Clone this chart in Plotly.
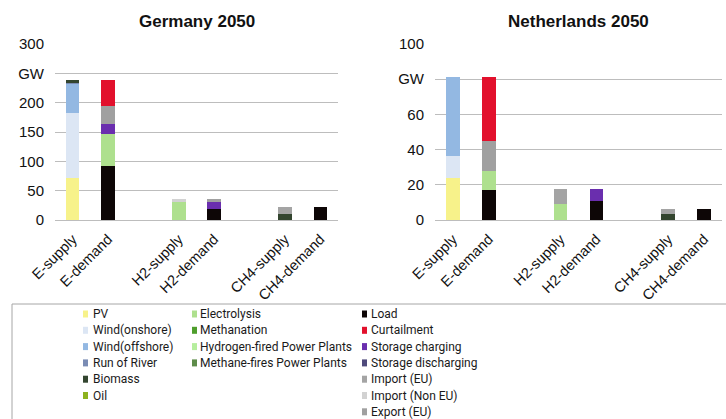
import plotly.graph_objects as go
from plotly.subplots import make_subplots

# ---------------- data ----------------
categories = ["E-supply", "E-demand", " ", "H2-supply", "H2-demand", "  ", "CH4-supply", "CH4-demand"]

# Germany 2050 (GW)
PV_DE            = [72,   None, None, None, None, None, None, None]
ONSHORE_DE       = [110,  None, None, None, None, None, None, None]
OFFSHORE_DE      = [50,   None, None, None, None, None, None, None]
RIVER_DE         = [2,    None, None, None, None, None, None, None]
BIOMASS_DE       = [4,    None, None, None, None, None, 10,   None]
OIL_DE           = [None, None, None, None, None, None, None, None]
LOAD_DE          = [None, 92,   None, None, 18,   None, None, 22]
ELECTROLYSIS_DE  = [None, 55,   None, 31,   None, None, None, None]
METHANATION_DE   = [None, None, None, None, None, None, None, None]
H2PP_DE          = [None, None, None, None, None, None, None, None]
CH4PP_DE         = [None, None, None, None, None, None, None, None]
STCHARGE_DE      = [None, 16,   None, None, 12,   None, None, None]
STDISCHARGE_DE   = [None, None, None, None, None, None, None, None]
IMPORT_EU_DE     = [None, None, None, None, None, None, 12,   None]
IMPORT_NONEU_DE  = [None, None, None, 5,    None, None, None, None]
EXPORT_EU_DE     = [None, 32,   None, None, 6,    None, None, None]
CURTAILMENT_DE   = [None, 43,   None, None, None, None, None, None]

# Netherlands 2050 (GW)
PV_NL            = [24,   None, None, None, None, None, None, None]
ONSHORE_NL       = [12.5, None, None, None, None, None, None, None]
OFFSHORE_NL      = [45,   None, None, None, None, None, None, None]
RIVER_NL         = [None, None, None, None, None, None, None, None]
BIOMASS_NL       = [None, None, None, None, None, None, 3.5,  None]
OIL_NL           = [None, None, None, None, None, None, None, None]
LOAD_NL          = [None, 17,   None, None, 11,   None, None, 6]
ELECTROLYSIS_NL  = [None, 11,   None, 9,    None, None, None, None]
METHANATION_NL   = [None, None, None, None, None, None, None, None]
H2PP_NL          = [None, None, None, None, None, None, None, None]
CH4PP_NL         = [None, None, None, None, None, None, None, None]
STCHARGE_NL      = [None, None, None, None, 6.5,  None, None, None]
STDISCHARGE_NL   = [None, None, None, None, None, None, None, None]
IMPORT_EU_NL     = [None, None, None, 8.5,  None, None, 3,    None]
IMPORT_NONEU_NL  = [None, None, None, None, None, None, None, None]
EXPORT_EU_NL     = [None, 17,   None, None, None, None, None, None]
CURTAILMENT_NL   = [None, 36.5, None, None, None, None, None, None]

# stacking order (bottom -> top)
series_names = ["PV", "Wind(onshore)", "Wind(offshore)", "Run of River", "Biomass", "Oil",
                "Load", "Electrolysis", "Methanation", "Hydrogen-fired Power Plants",
                "Methane-fires Power Plants", "Storage charging", "Storage discharging",
                "Import (EU)", "Import (Non EU)", "Export (EU)", "Curtailment"]
values_de = [PV_DE, ONSHORE_DE, OFFSHORE_DE, RIVER_DE, BIOMASS_DE, OIL_DE, LOAD_DE,
             ELECTROLYSIS_DE, METHANATION_DE, H2PP_DE, CH4PP_DE, STCHARGE_DE, STDISCHARGE_DE,
             IMPORT_EU_DE, IMPORT_NONEU_DE, EXPORT_EU_DE, CURTAILMENT_DE]
values_nl = [PV_NL, ONSHORE_NL, OFFSHORE_NL, RIVER_NL, BIOMASS_NL, OIL_NL, LOAD_NL,
             ELECTROLYSIS_NL, METHANATION_NL, H2PP_NL, CH4PP_NL, STCHARGE_NL, STDISCHARGE_NL,
             IMPORT_EU_NL, IMPORT_NONEU_NL, EXPORT_EU_NL, CURTAILMENT_NL]

# legend columns (top -> bottom)
legend_col1 = ["PV", "Wind(onshore)", "Wind(offshore)", "Run of River", "Biomass", "Oil"]
legend_col2 = ["Electrolysis", "Methanation", "Hydrogen-fired Power Plants", "Methane-fires Power Plants"]
legend_col3 = ["Load", "Curtailment", "Storage charging", "Storage discharging",
               "Import (EU)", "Import (Non EU)", "Export (EU)"]

y_ticks_de = [0, 50, 100, 150, 200, 250, 300]
y_text_de = ["0", "50", "100", "150", "200", "GW", "300"]
y_ticks_nl = [0, 20, 40, 60, 80, 100]
y_text_nl = ["0", "20", "40", "60", "GW", "100"]

# ---------------- styling ----------------
colors = {
    "PV": "#F7F28A",
    "Wind(onshore)": "#DCE6F4",
    "Wind(offshore)": "#93B8E2",
    "Run of River": "#7A8CB4",
    "Biomass": "#33452F",
    "Oil": "#8DB21E",
    "Load": "#0D0606",
    "Electrolysis": "#AEE08E",
    "Methanation": "#4E9E2C",
    "Hydrogen-fired Power Plants": "#B6EE9E",
    "Methane-fires Power Plants": "#5E8C4A",
    "Storage charging": "#6A2EAE",
    "Storage discharging": "#4F4A7C",
    "Import (EU)": "#A4A4A4",
    "Import (Non EU)": "#D2D2D2",
    "Export (EU)": "#A0A0A0",
    "Curtailment": "#E2102C",
}

W, H = 726, 419
FONT = "Liberation Sans, Arial, sans-serif"
LEG_FONT = "Roboto, Liberation Sans, Arial, sans-serif"

fig = make_subplots(rows=1, cols=2)

for name, vde, vnl in zip(series_names, values_de, values_nl):
    fig.add_trace(go.Bar(x=categories, y=vde, name=name, marker=dict(color=colors[name], line=dict(width=0)),
                         legendgroup=name, showlegend=False), row=1, col=1)
    fig.add_trace(go.Bar(x=categories, y=vnl, name=name, marker=dict(color=colors[name], line=dict(width=0)),
                         legendgroup=name, showlegend=False), row=1, col=2)

y0 = 1 - 220 / H
y1 = 1 - 44 / H
xaxis_common = dict(type="category", categoryorder="array", categoryarray=categories,
                    range=[-0.5, len(categories) - 0.5], showgrid=False, showline=False,
                    automargin=False, tickangle=-45, ticks="", ticklabelstandoff=7,
                    tickfont=dict(family=FONT, size=14.5, color="#111111"))
yaxis_common = dict(showgrid=True, gridcolor="#BDBDBD", gridwidth=1, zeroline=True,
                    zerolinecolor="#BDBDBD", zerolinewidth=1, showline=False, ticks="",
                    automargin=False,
                    tickfont=dict(family=FONT, size=15, color="#111111"), ticklabelstandoff=10,
                    domain=[y0, y1])

fig.update_layout(
    width=W, height=H,
    margin=dict(l=0, r=0, t=0, b=0, autoexpand=False),
    paper_bgcolor="white", plot_bgcolor="white",
    barmode="stack", bargap=0.62, showlegend=False,
    font=dict(family=FONT, color="#111111"),
    xaxis=dict(domain=[55 / W, 338 / W], **xaxis_common),
    xaxis2=dict(domain=[435 / W, 722 / W], **xaxis_common),
    yaxis=dict(range=[0, 300], tickvals=y_ticks_de, ticktext=y_text_de, **yaxis_common),
    yaxis2=dict(range=[0, 100], tickvals=y_ticks_nl, ticktext=y_text_nl, **yaxis_common),
)

# ---------------- legend box (three columns) ----------------
fig.add_shape(type="rect", xref="paper", yref="paper", x0=12 / W, x1=740 / W,
              y0=-20 / H, y1=1 - 304 / H, line=dict(color="#A6A6A6", width=1),
              fillcolor="white", layer="above")

LEG_TOP, LEG_STEP = 314, 16.3
for names, swatch_x, text_x in [(legend_col1, 83, 92), (legend_col2, 192, 199), (legend_col3, 362, 370)]:
    for i, name in enumerate(names):
        yc = LEG_TOP + i * LEG_STEP
        fig.add_shape(type="rect", xref="paper", yref="paper",
                      x0=swatch_x / W, x1=(swatch_x + 5) / W,
                      y0=1 - (yc + 3.5) / H, y1=1 - (yc - 3.5) / H,
                      fillcolor=colors[name], line=dict(width=0), layer="above")
        fig.add_annotation(text=name, x=text_x / W, y=1 - yc / H, xref="paper", yref="paper",
                           showarrow=False, xanchor="left", yanchor="middle",
                           borderpad=0, font=dict(family=LEG_FONT, size=12, color="#1a1a1a"))

# subplot titles
for text, xc in [("Germany 2050", 196.5), ("Netherlands 2050", 578.5)]:
    fig.add_annotation(text="<b>%s</b>" % text, x=xc / W, y=1 - 22 / H, xref="paper", yref="paper",
                       showarrow=False, xanchor="center", yanchor="middle",
                       font=dict(family=FONT, size=17, color="#111111"))

fig.write_html("out.html", config={"displayModeBar": False},
               post_script="document.body.style.margin='0';document.body.style.overflow='hidden';")
